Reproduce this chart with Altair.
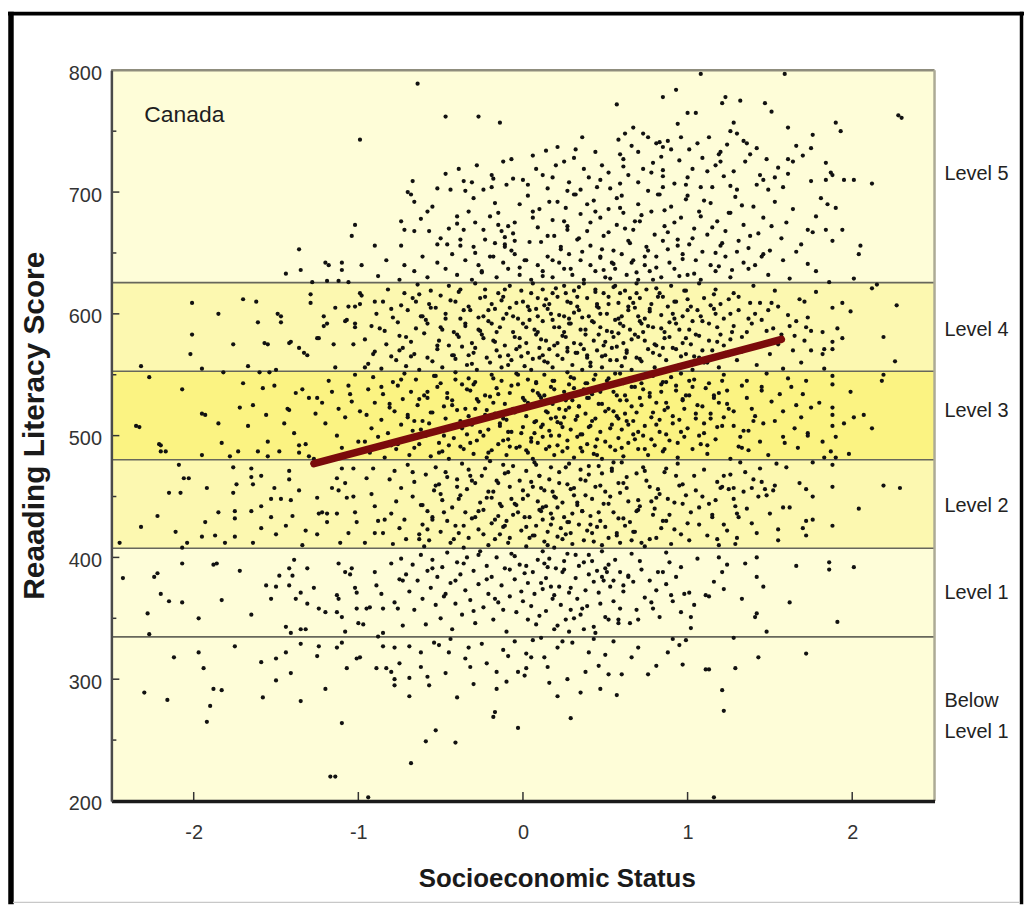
import altair as alt
import pandas as pd

# ---------------- data (SES, reading score) ----------------
below_level1 = [
 (-2.12,318),(-1.97,322),(-1.75,327),(-1.59,314),(-1.50,317),(-1.44,322),(-1.35,329),(-1.24,327),(-1.25,319),(-1.13,326),
 (-1.10,330),(-1.41,305),(-1.50,299),(-1.20,292),(-1.35,282),(-1.94,309),(-1.83,291),(-1.88,292),(-1.58,285),(-2.30,289),
 (-2.16,283),(-1.90,278),(-1.92,265),(-1.10,264),(-1.17,220),(-1.14,220),(-1.01,317),(-1.07,309),(-0.99,318),(-0.89,309),
 (-0.85,327),(-0.78,326),(-0.83,309),(-0.80,306),(-0.78,300),(-0.78,295),(-0.75,313),(-0.69,327),(-0.69,301),(-0.69,286),
 (-0.68,231),(-0.59,249),(-0.53,258),(-0.41,248),(-0.57,295),(-0.54,330),(-0.51,328),(-0.47,305),(-0.35,317),(-0.32,310),
 (-0.18,269),(-0.17,273),(-0.16,306),(-0.16,292),(-0.12,324),(-0.09,319),(-0.03,306),(-0.03,260),(-0.62,322),(-0.44,333),
 (-0.25,329),(-0.30,296),(-0.05,331),(-0.40,285),(-0.62,310),(-0.94,203),
 (0.02,321),(0.13,318),(0.21,326),(0.02,309),(0.01,303),(0.46,311),(0.52,304),(0.60,304),(0.76,304),(0.81,311),
 (0.21,286),(0.35,289),(0.47,292),(0.57,287),(0.29,268),(1.11,308),(1.13,308),(1.29,309),(1.21,291),(1.22,274),
 (1.43,318),(1.72,321),(1.16,203),(0.91,333),(0.95,328),(0.99,332),(1.28,334),(0.06,332),(0.11,334),(0.55,331),
 (0.30,330),(0.40,322),(0.70,326),(0.16,297),
 (0.05,318),(-0.22,313),(0.38,306),(0.66,318),(-0.45,322),(0.24,331),(0.88,322),(-0.10,298),(0.50,320),(0.15,310),
 (-0.33,326),(0.97,312),(0.43,333),(-0.58,302),(0.27,300),
]

level1 = [
 (-2.43,383),(-2.24,384),(-2.22,387),(-2.20,370),(-2.15,364),(-2.07,363),(-2.28,354),(-2.27,337),(-2.07,395),(-1.97,350),
 (-1.88,394),(-1.86,395),(-1.83,365),(-1.72,389),(-1.65,353),(-1.56,377),(-1.53,366),(-1.50,376),(-1.48,385),(-1.42,391),
 (-1.42,377),(-1.40,385),(-1.39,398),(-1.38,366),(-1.44,343),(-1.41,338),(-1.35,341),(-1.32,341),(-1.35,371),(-1.31,391),
 (-1.31,362),(-1.27,375),(-1.24,358),(-1.20,355),(-1.13,369),(-1.12,366),(-1.13,355),(-1.12,395),(-1.10,351),(-1.08,388),
 (-1.08,339),(-1.05,386),(-1.04,391),(-1.02,375),(-1.01,371),(-1.00,346),(-0.97,345),(-1.01,358),(-0.95,358),(-0.93,359),
 (-0.90,388),(-0.89,377),(-0.88,335),(-0.86,370),(-0.85,358),(-0.85,338),(-0.80,395),(-0.78,363),(-0.76,358),(-0.75,382),
 (-0.73,381),(-0.74,399),(-0.73,344),
 (-0.71,386),(-0.69,372),(-0.67,394),(-0.66,357),(-0.64,381),(-0.62,402),(-0.61,366),(-0.59,345),(-0.58,389),(-0.56,375),
 (-0.55,398),(-0.53,361),(-0.52,384),(-0.50,350),(-0.49,392),(-0.47,370),(-0.46,404),(-0.44,379),(-0.43,341),(-0.41,362),
 (-0.40,396),(-0.38,386),(-0.37,353),(-0.35,373),(-0.34,400),(-0.32,365),(-0.30,389),(-0.29,346),(-0.27,378),(-0.26,405),
 (-0.24,359),(-0.22,393),(-0.21,370),(-0.19,384),(-0.18,349),(-0.16,400),(-0.15,363),(-0.13,377),(-0.11,391),(-0.10,339),
 (-0.08,368),(-0.07,403),(-0.05,382),(-0.04,355),(-0.02,394),(-0.01,372),
 (0.02,393),(0.01,387),(0.03,349),(0.07,370),(0.11,379),(0.09,398),(0.13,395),(0.15,392),(0.17,376),(0.22,376),
 (0.20,391),(0.25,397),(0.24,388),(0.26,349),(0.28,339),(0.29,357),(0.28,371),(0.32,383),(0.33,366),(0.38,373),
 (0.40,402),(0.40,386),(0.43,380),(0.44,338),(0.45,389),(0.48,384),(0.49,381),(0.50,391),(0.51,388),(0.50,351),
 (0.52,349),(0.53,376),(0.55,364),(0.59,358),(0.58,349),(0.59,388),(0.64,384),(0.65,346),(0.67,380),(0.70,349),
 (0.72,390),(0.82,388),(0.79,358),(0.83,351),(0.85,388),(0.89,396),(0.90,369),(0.91,364),(0.96,392),(0.96,355),
 (0.98,370),(1.01,371),(1.02,351),(1.02,342),(1.04,361),(1.06,399),(1.11,369),(1.13,368),(1.16,380),(1.19,400),
 (1.21,388),(1.22,374),(1.24,394),(1.33,366),(1.35,395),(1.42,384),(1.42,354),(1.41,351),(1.46,376),(1.48,339),
 (1.42,400),(1.62,363),(1.66,393),(1.86,396),(1.86,390),(2.01,392),(1.91,347),
 (0.05,360),(0.08,345),(0.12,405),(0.14,356),(0.18,366),(0.19,341),(0.23,361),(0.27,403),(0.31,350),(0.34,393),
 (0.36,358),(0.37,341),(0.42,397),(0.47,362),(0.56,398),(0.61,372),(0.66,403),(0.74,367),(0.77,381),(0.87,404),
 (0.14,383),(-0.36,395),(0.46,371),(0.71,397),(-0.12,357),(0.32,402),(0.03,379),(0.58,346),(-0.48,368),(0.25,390),
 (0.87,378),(-0.22,382),(0.39,360),(0.10,352),(0.64,385),(-0.05,401),(0.19,369),(0.52,394),(-0.30,356),(0.78,363),
 (0.06,388),(0.43,343),(-0.41,381),(0.29,375),(0.93,384),(0.16,399),(-0.17,366),(0.61,377),(0.35,353),(-0.08,390),
 (0.48,405),(0.21,344),(0.81,373),(-0.27,402),(0.00,364),(0.55,381),(0.37,396),(-0.55,391),(0.69,357),(0.12,374),
]

level2 = [
 (-2.09,476),(-2.06,465),(-2.03,465),(-2.15,453),(-2.08,453),(-1.92,457),(-2.22,434),(-2.32,425),(-2.45,412),(-2.11,421),
 (-2.04,412),(-2.07,408),(-1.93,429),(-1.95,417),(-1.87,418),(-1.85,437),(-1.81,412),(-1.76,453),(-1.74,460),(-1.75,438),
 (-1.75,432),(-1.76,474),(-1.75,417),(-1.65,473),(-1.64,460),(-1.65,466),(-1.59,467),(-1.59,442),(-1.65,438),(-1.64,412),
 (-1.59,424),(-1.53,448),(-1.51,457),(-1.53,433),(-1.50,419),(-1.47,448),(-1.42,471),(-1.42,464),(-1.41,447),(-1.40,434),
 (-1.44,426),(-1.36,455),(-1.32,422),(-1.34,410),(-1.25,449),(-1.24,436),(-1.22,437),(-1.19,436),(-1.25,419),(-1.19,429),
 (-1.16,457),(-1.13,465),(-1.12,455),(-1.13,436),(-1.11,412),(-1.10,473),(-1.08,461),(-1.07,449),(-1.06,420),(-1.03,473),
 (-1.03,450),(-1.02,437),(-1.01,429),(-0.96,412),(-0.95,465),(-0.92,452),(-0.91,473),(-0.90,442),(-0.90,420),(-0.88,430),
 (-0.85,420),(-0.84,431),(-0.81,464),
 (-0.79,411),(-0.71,415),(-0.60,409),(-0.57,414),(-0.44,412),(-0.36,408),(-0.33,416),(-0.21,410),(-0.17,415),(-0.09,412),
 (0.02,409),(0.04,416),(0.13,413),(0.19,408),(0.21,417),(0.30,411),(0.37,414),(0.48,410),(0.52,416),(0.59,412),
 (0.74,409),(0.77,415),(0.90,411),(1.01,414),(1.19,410),
 (-0.75,424),(-0.63,419),(-0.61,427),(-0.50,421),(-0.41,426),(-0.39,420),(-0.27,423),(-0.19,428),(-0.14,419),(-0.12,425),
 (-0.01,422),(0.06,418),(0.08,426),(0.15,421),(0.23,424),(0.26,419),(0.34,427),(0.39,422),(0.45,425),(0.57,420),
 (0.62,426),(0.68,421),(0.84,424),(0.96,419),(1.07,427),(1.24,422),
 (-0.80,436),(-0.72,431),(-0.58,438),(-0.55,433),(-0.46,430),(-0.35,437),(-0.31,432),(-0.24,439),(-0.15,434),(-0.10,430),
 (-0.03,437),(0.01,433),(0.10,439),(0.12,431),(0.17,436),(0.25,433),(0.28,429),(0.36,438),(0.41,434),(0.47,430),
 (0.55,437),(0.61,432),(0.70,439),(0.79,435),(0.87,430),(1.02,437),(1.15,433),(1.30,436),
 (-0.77,446),(-0.67,450),(-0.62,443),(-0.49,447),(-0.43,441),(-0.38,451),(-0.26,445),(-0.22,449),(-0.13,442),(-0.07,448),
 (-0.05,444),(0.03,451),(0.09,446),(0.14,442),(0.20,449),(0.24,445),(0.31,451),(0.33,443),(0.42,448),(0.49,444),
 (0.53,450),(0.64,446),(0.71,442),(0.81,449),(0.92,445),(0.99,451),(1.13,444),(1.28,448),
 (-0.74,457),(-0.66,462),(-0.54,455),(-0.51,460),(-0.40,464),(-0.34,456),(-0.29,461),(-0.18,454),(-0.16,463),(-0.08,458),
 (0.00,455),(0.05,462),(0.11,457),(0.16,464),(0.18,454),(0.27,460),(0.29,456),(0.38,463),(0.44,458),(0.50,454),
 (0.58,461),(0.63,457),(0.75,463),(0.82,456),(0.97,460),(1.05,455),(1.18,462),
 (-0.78,471),(-0.70,476),(-0.59,468),(-0.53,474),(-0.47,470),(-0.37,477),(-0.32,467),(-0.23,473),(-0.20,479),(-0.11,469),
 (-0.06,475),(0.02,471),(0.07,478),(0.10,467),(0.17,474),(0.22,470),(0.28,477),(0.35,472),(0.40,468),(0.46,475),
 (0.54,471),(0.60,478),(0.69,469),(0.73,474),(0.86,470),(0.94,477),(1.10,472),(1.22,467),
 (1.68,461),(1.72,456),(1.76,450),(1.88,458),(2.19,459),(2.29,457),(2.04,440),(1.88,426),(1.72,430),(1.76,431),
 (1.72,418),(1.70,424),(1.55,423),(1.55,414),(1.62,441),(1.58,441),(1.50,436),(1.53,459),(1.52,455),(1.47,456),
 (1.48,451),(1.43,450),(1.40,464),(1.45,462),(1.39,428),(1.31,433),(1.29,442),(1.30,416),(1.29,411),(1.22,427),
 (1.18,415),(1.21,458),(1.25,456),(1.28,457),(1.34,454),(1.39,457),(1.44,473),(1.60,474),(1.54,477),(1.76,478),
 (1.88,476),(1.35,470),(1.32,478),(1.26,468),(1.36,440),(1.42,420),(1.17,447),
 (0.12,441),(-0.31,463),(0.57,418),(0.83,452),(-0.55,431),(0.26,474),(-0.08,416),(0.69,438),(1.04,467),(-0.19,449),
 (0.41,427),(-0.67,470),(0.06,458),(0.92,423),(0.33,445),(-0.42,415),(0.61,461),(0.18,432),(-0.12,476),(0.78,446),
 (1.15,435),(-0.27,438),(0.48,469),(0.02,425),(0.72,412),(-0.50,452),(0.24,415),(0.95,459),(-0.04,443),(0.55,478),
 (0.38,451),(-0.36,426),(0.87,473),(0.10,467),(-0.61,443),(0.65,429),(0.29,420),(1.09,450),(-0.15,461),(0.46,437),
 (0.00,448),(0.81,416),(-0.46,466),(0.21,441),(0.59,453),(-0.24,419),(1.00,428),(0.35,464),(-0.06,435),(0.74,471),
 (0.15,410),(-0.39,448),(0.52,444),(0.89,435),(-0.11,426),(0.31,457),(0.67,421),(-0.58,423),(0.08,476),(1.20,457),
 (0.43,413),(-0.21,454),(0.77,458),(0.19,450),(-0.33,472),(0.97,444),(0.50,425),(0.04,433),(-0.48,437),(0.63,466),
 (0.27,429),(-0.02,463),(0.85,430),(1.12,418),(-0.29,433),(0.40,475),(0.13,455),(0.70,447),(-0.53,459),(0.36,438),
 (0.58,432),(-0.14,444),(0.93,467),(0.22,461),(-0.40,458),(0.07,418),(0.80,440),(0.47,459),(-0.09,470),(0.66,414),
 (1.07,441),(0.30,436),(-0.63,415),(0.17,427),(0.54,473),(-0.25,467),(0.88,448),(0.11,438),(0.42,420),(-0.17,431),
]

level3 = [
 (-2.35,508),(-2.33,507),(-2.21,493),(-2.20,487),(-2.17,487),(-2.07,538),(-1.95,518),(-1.93,517),(-1.95,484),(-1.85,510),
 (-1.83,494),(-1.78,483),(-1.73,487),(-1.70,543),(-1.72,523),(-1.67,508),(-1.64,525),(-1.61,487),(-1.58,539),(-1.55,495),
 (-1.51,541),(-1.48,487),(-1.45,510),(-1.43,522),(-1.39,502),(-1.38,535),(-1.36,492),(-1.34,538),(-1.30,531),(-1.26,518),
 (-1.25,531),(-1.27,481),(-1.56,517),(-1.42,521),(-1.22,527),(-1.16,536),(-1.06,541),(-1.05,534),(-1.04,528),(-0.99,520),
 (-2.20,492),(-1.55,483),(-1.36,486),(-1.32,493),(-1.30,483),(-2.27,548),(-1.13,500),(-1.10,490),(-1.20,510),(-1.18,545),
 (-1.00,495),(-1.08,515),(-1.02,550),(-1.12,522),(-1.82,552),(-1.60,552),(-1.54,552),
 (-0.93,486),(-0.84,482),(-0.77,489),(-0.69,484),(-0.66,490),(-0.56,483),(-0.49,487),(-0.45,481),(-0.36,489),(-0.30,485),
 (-0.22,482),(-0.19,488),(-0.10,484),(-0.04,490),(0.03,486),(0.06,481),(0.14,489),(0.19,484),(0.24,487),(0.31,482),
 (0.35,490),(0.43,485),(0.48,481),(0.56,488),(0.61,483),(0.70,489),(0.76,484),(0.85,487),(0.94,482),(1.03,489),
 (1.12,485),(1.26,481),(1.37,488),(1.49,484),
 (-0.96,495),(-0.88,499),(-0.80,492),(-0.71,497),(-0.63,493),(-0.59,500),(-0.51,494),(-0.42,498),(-0.38,491),(-0.28,496),
 (-0.24,500),(-0.15,493),(-0.09,497),(-0.02,491),(0.05,498),(0.09,494),(0.17,500),(0.21,492),(0.27,496),(0.33,499),
 (0.39,493),(0.45,497),(0.53,491),(0.58,498),(0.64,494),(0.73,500),(0.80,492),(0.89,496),(0.98,499),(1.08,493),
 (1.17,497),(1.31,491),(1.44,495),(1.58,499),
 (-0.92,506),(-0.82,502),(-0.74,509),(-0.67,504),(-0.57,510),(-0.53,503),(-0.44,507),(-0.34,501),(-0.31,509),(-0.21,505),
 (-0.14,510),(-0.07,503),(0.00,507),(0.07,502),(0.12,509),(0.16,504),(0.23,510),(0.29,505),(0.36,501),(0.41,508),
 (0.47,503),(0.54,509),(0.60,505),(0.67,501),(0.74,508),(0.83,503),(0.91,510),(1.00,506),(1.10,502),(1.21,508),
 (1.34,504),(1.46,510),
 (-0.95,517),(-0.86,513),(-0.78,520),(-0.70,515),(-0.61,512),(-0.55,519),(-0.47,514),(-0.40,521),(-0.33,516),(-0.26,512),
 (-0.17,518),(-0.12,514),(-0.05,521),(0.02,516),(0.08,512),(0.15,519),(0.20,515),(0.26,521),(0.32,513),(0.38,518),
 (0.44,514),(0.50,520),(0.57,516),(0.63,512),(0.69,519),(0.78,515),(0.86,521),(0.95,513),(1.05,518),(1.14,514),
 (1.28,520),(1.41,516),(1.53,512),
 (-0.90,527),(-0.81,523),(-0.73,530),(-0.64,525),(-0.58,531),(-0.48,524),(-0.43,529),(-0.35,522),(-0.27,528),(-0.20,532),
 (-0.11,526),(-0.06,522),(0.01,529),(0.04,524),(0.11,531),(0.18,526),(0.22,522),(0.30,529),(0.34,524),(0.40,531),
 (0.46,526),(0.52,522),(0.59,529),(0.66,524),(0.71,531),(0.81,527),(0.88,523),(0.97,530),(1.06,525),(1.16,531),
 (1.24,526),(1.39,522),(1.51,528),
 (-0.94,538),(-0.85,534),(-0.76,541),(-0.68,536),(-0.60,533),(-0.52,540),(-0.46,535),(-0.37,542),(-0.32,537),(-0.23,533),
 (-0.16,539),(-0.08,535),(-0.03,542),(0.06,537),(0.10,533),(0.17,540),(0.25,536),(0.28,542),(0.37,538),(0.42,534),
 (0.49,541),(0.55,536),(0.62,533),(0.68,540),(0.77,535),(0.84,542),(0.93,537),(1.01,533),(1.11,539),(1.19,535),
 (1.33,541),(1.45,537),(1.56,534),
 (-0.91,548),(-0.79,544),(-0.72,551),(-0.65,546),(-0.54,549),(-0.50,543),(-0.41,552),(-0.33,547),(-0.29,544),(-0.19,550),
 (-0.13,545),(-0.04,551),(0.03,546),(0.08,543),(0.13,550),(0.19,545),(0.27,552),(0.31,547),(0.39,543),(0.44,550),
 (0.51,545),(0.56,551),(0.65,547),(0.72,543),(0.79,549),(0.87,544),(0.96,551),(1.04,546),(1.13,543),(1.22,550),
 (1.36,545),(1.48,551),(1.61,547),
 (2.18,545),(1.99,536),(2.07,517),(2.01,515),(2.12,506),(1.98,485),(1.95,510),(1.88,549),(1.88,542),(1.88,523),
 (1.88,517),(1.88,508),(1.90,499),(1.82,495),(1.73,502),(1.83,482),(1.90,482),(1.80,527),(1.75,523),(1.70,534),
 (1.69,515),(1.65,506),(2.19,550),(1.73,500),(1.67,490),(1.58,520),(1.63,540),(1.72,545),(1.59,494),(1.66,525),
 (1.87,487),
 (0.21,511),(-0.34,538),(0.78,497),(1.09,524),(-0.62,505),(0.43,546),(0.02,488),(0.91,516),(-0.18,527),(1.32,499),
 (0.57,533),(-0.45,492),(0.14,520),(0.69,548),(1.18,507),(-0.07,541),(0.35,501),(-0.81,526),(0.84,536),(0.27,490),
 (1.01,545),(-0.26,503),(0.62,518),(0.09,535),(1.40,512),(-0.53,549),(0.48,526),(-0.12,496),(0.96,503),(0.31,539),
 (-0.70,517),(0.74,489),(0.18,545),(1.24,537),(-0.38,512),(0.53,506),(0.04,523),(0.87,527),(-0.21,486),(0.39,531),
 (1.12,492),(-0.58,536),(0.66,540),(0.24,507),(-0.03,550),(1.05,514),(0.45,484),(-0.29,522),(0.81,509),(0.12,499),
 (1.36,531),(-0.48,500),(0.59,551),(0.33,516),(-0.15,534),(0.99,533),(0.07,511),(-0.76,493),(0.72,525),(1.21,545),
 (0.26,529),(-0.09,503),(0.50,495),(0.93,541),(-0.41,546),(0.16,491),(1.14,518),(0.64,509),(-0.23,517),(0.38,543),
 (0.00,531),(0.86,489),(-0.63,530),(1.28,508),(0.55,520),(0.19,538),(-0.32,494),(0.77,532),(1.07,500),(0.42,512),
 (-0.05,519),(0.68,497),(-0.86,540),(0.29,548),(0.98,522),(0.11,507),(-0.43,525),(1.45,540),(0.61,543),(0.22,500),
 (-0.18,547),(0.83,513),(0.36,487),(1.16,533),(-0.66,512),(0.47,536),(0.05,495),(0.90,548),(-0.28,530),(0.70,503),
 (1.25,522),(0.15,527),(-0.51,486),(0.58,514),(0.94,494),(-0.10,513),(0.34,524),(1.03,540),(-0.37,506),(0.79,519),
 (0.25,515),(1.33,490),(-0.01,502),(0.63,529),(-0.74,546),(0.44,491),(1.10,510),(0.08,544),(-0.22,521),(0.87,501),
 (0.52,547),(-0.56,519),(0.17,514),(1.19,527),(0.73,538),(-0.08,491),(0.40,507),(0.97,529),(-0.30,542),(0.28,523),
 (1.37,504),(0.60,490),(-0.46,531),(0.13,533),(0.85,544),(-0.14,508),(0.49,540),(1.22,515),(0.03,527),(0.67,512),
]

level4 = [
 (-2.01,583),(-2.02,567),(-2.32,557),(-1.95,555),(-1.76,575),(-1.67,557),(-1.57,576),(-1.55,575),(-1.47,598),(-1.47,593),
 (-1.41,577),(-1.36,572),(-1.31,566),(-1.25,580),(-1.21,598),(-1.19,592),(-1.14,605),(-1.06,606),(-1.02,606),(-1.07,595),
 (-1.02,592),(-0.98,615),(-1.62,610),(-1.29,616),(-1.29,609),(-2.01,609),(-1.85,600),(-1.70,612),(-1.61,593),(-1.50,554),
 (-1.42,576),(-1.33,568),(-1.24,580),(-1.21,590),(-1.15,575),(-1.14,556),(-1.08,594),(-1.02,589),(-0.99,608),(-0.99,617),
 (-1.03,575),(-0.96,556),(-0.91,567),(-0.90,610),(-1.49,600),
 (-0.94,559),(-0.86,555),(-0.77,562),(-0.71,557),(-0.63,554),(-0.55,561),(-0.49,556),(-0.41,563),(-0.34,558),(-0.28,554),
 (-0.20,560),(-0.13,556),(-0.07,562),(0.01,557),(0.05,554),(0.13,561),(0.18,556),(0.24,563),(0.30,558),(0.36,554),
 (0.41,560),(0.48,556),(0.53,562),(0.60,557),(0.66,554),(0.72,561),(0.80,556),(0.87,562),(0.95,558),(1.03,554),
 (1.10,560),(1.19,556),(1.30,562),(1.42,558),(1.58,555),
 (-0.90,569),(-0.80,565),(-0.73,572),(-0.66,567),(-0.58,564),(-0.52,571),(-0.43,566),(-0.37,573),(-0.30,568),(-0.22,564),
 (-0.16,570),(-0.09,566),(-0.02,573),(0.03,568),(0.10,564),(0.16,571),(0.21,566),(0.27,572),(0.33,568),(0.39,564),
 (0.45,570),(0.50,566),(0.57,573),(0.63,568),(0.69,564),(0.76,571),(0.83,566),(0.91,572),(0.99,567),(1.07,564),
 (1.15,570),(1.25,566),(1.36,572),(1.50,567),(1.64,570),
 (-0.96,579),(-0.83,575),(-0.75,582),(-0.68,577),(-0.60,584),(-0.51,578),(-0.45,574),(-0.39,581),(-0.31,576),(-0.25,583),
 (-0.18,578),(-0.11,574),(-0.05,581),(0.02,576),(0.08,583),(0.14,578),(0.19,574),(0.26,581),(0.31,576),(0.38,583),
 (0.43,578),(0.49,574),(0.55,581),(0.61,576),(0.68,583),(0.74,578),(0.81,574),(0.89,581),(0.97,576),(1.05,583),
 (1.13,578),(1.22,574),(1.33,581),(1.46,576),(1.57,583),
 (-0.92,590),(-0.84,586),(-0.76,593),(-0.65,588),(-0.59,595),(-0.50,589),(-0.42,585),(-0.35,592),(-0.27,587),(-0.21,594),
 (-0.14,589),(-0.06,585),(0.00,592),(0.07,587),(0.12,594),(0.19,589),(0.25,585),(0.29,592),(0.35,587),(0.42,594),
 (0.47,589),(0.54,585),(0.59,592),(0.65,587),(0.71,594),(0.79,589),(0.86,585),(0.93,592),(1.01,587),(1.09,594),
 (1.18,589),(1.27,585),(1.39,592),(1.52,588),(1.66,594),
 (-0.89,600),(-0.79,597),(-0.70,603),(-0.62,598),(-0.53,605),(-0.47,600),(-0.38,596),(-0.32,603),(-0.24,598),(-0.17,604),
 (-0.10,600),(-0.03,596),(0.04,603),(0.09,598),(0.15,604),(0.22,599),(0.28,596),(0.34,603),(0.40,598),(0.46,605),
 (0.51,600),(0.58,596),(0.64,603),(0.70,598),(0.77,604),(0.84,599),(0.92,596),(1.00,603),(1.08,598),(1.16,604),
 (1.26,600),(1.37,596),(1.49,603),(1.61,599),
 (-0.85,610),(-0.74,607),(-0.67,613),(-0.57,608),(-0.50,615),(-0.41,610),(-0.33,606),(-0.26,613),(-0.19,608),(-0.12,614),
 (-0.04,609),(0.03,606),(0.09,613),(0.16,608),(0.21,614),(0.27,610),(0.33,606),(0.39,613),(0.45,608),(0.52,614),
 (0.58,609),(0.64,606),(0.71,613),(0.78,608),(0.85,614),(0.93,610),(1.02,606),(1.10,613),(1.20,608),(1.31,614),
 (1.44,609),(1.55,606),
 (-0.82,620),(-0.72,617),(-0.64,624),(-0.56,619),(-0.45,623),(-0.39,618),(-0.29,625),(-0.23,620),(-0.15,617),(-0.08,623),
 (-0.01,619),(0.06,625),(0.12,620),(0.18,617),(0.25,623),(0.31,619),(0.37,625),(0.44,620),(0.49,617),(0.56,623),
 (0.62,619),(0.69,625),(0.75,620),(0.83,617),(0.90,623),(0.99,619),(1.07,625),(1.17,620),(1.28,617),(1.40,623),
 (1.53,619),
 (1.88,605),(1.94,609),(1.99,602),(1.94,580),(1.88,571),(1.82,585),(1.83,571),(2.12,621),(2.15,624),(1.75,586),
 (1.65,582),(2.27,607),(2.19,581),(2.26,561),(1.88,577),(1.91,588),(1.82,567),(1.75,570),(1.69,560),(1.73,597),
 (1.68,612),(1.78,618),(1.62,590),(1.71,578),(1.83,555),(1.72,589),(1.71,610),
 (0.37,571),(-0.21,603),(0.84,588),(1.12,560),(-0.58,592),(0.05,617),(0.66,579),(1.41,600),(-0.33,566),(0.29,609),
 (0.93,571),(-0.71,581),(0.18,595),(1.25,612),(-0.09,558),(0.55,622),(1.03,594),(-0.44,611),(0.41,557),(0.77,602),
 (-0.16,585),(1.18,577),(0.12,566),(0.61,590),(-0.80,604),(0.98,619),(0.24,582),(-0.27,597),(1.33,569),(0.47,600),
 (0.71,563),(-0.52,574),(0.08,604),(1.07,582),(0.33,614),(-0.04,571),(0.88,606),(1.48,586),(-0.38,620),(0.58,584),
 (0.15,560),(-0.63,616),(0.80,575),(1.22,596),(0.43,593),(-0.13,611),(0.69,617),(0.27,569),(1.55,575),(-0.24,580),
 (0.96,565),(0.52,608),(-0.47,596),(0.02,589),(1.14,607),(0.35,575),(-0.87,588),(0.74,596),(0.20,621),(1.38,609),
 (-0.06,598),(0.63,570),(1.00,612),(-0.31,559),(0.44,618),(0.86,580),(0.11,579),(-0.68,565),(1.28,590),(0.57,562),
 (-0.19,592),(0.91,600),(0.31,601),(1.09,570),(-0.40,583),(0.67,609),(0.06,563),(1.45,595),(0.50,577),(-0.11,620),
 (0.82,614),(0.22,589),(-0.56,605),(1.20,583),(0.39,566),(0.00,610),(0.73,585),(1.31,603),(-0.29,572),(0.60,598),
 (0.14,612),(0.95,587),(-0.75,570),(0.46,583),(1.04,565),(-0.02,580),(0.79,568),(0.28,592),(1.16,616),(-0.36,603),
 (0.54,572),(0.17,600),(0.89,593),(-0.14,565),(1.26,579),(0.65,613),(0.09,585),(-0.49,587),(0.76,590),(0.34,622),
 (1.06,603),(-0.23,614),(0.48,565),(0.99,580),(0.25,598),(-0.61,598),(0.70,581),(1.36,585),(0.04,595),(0.59,617),
 (-0.08,605),(0.85,572),(0.38,587),(1.13,592),(-0.35,590),(0.21,576),(0.68,605),(1.51,609),(-0.01,565),(0.92,610),
 (0.32,568),(-0.17,577),(0.56,595),(1.02,575),(0.13,607),(0.81,621),(-0.42,566),(0.45,606),(1.23,568),(0.26,617),
 (0.72,592),(-0.26,586),(0.10,572),(0.97,598),(0.51,586),(-0.65,610),(1.17,600),(0.36,597),(0.62,564),(-0.12,596),
]

level5 = [
 (-1.44,633),(-1.35,636),(-1.36,653),(-1.28,626),(-1.19,627),(-1.12,627),(-1.06,626),(-1.20,642),(-1.18,640),(-1.10,642),
 (-1.10,636),(-0.98,640),(-0.74,676),(-0.72,669),(-0.66,668),(-0.62,678),(-0.57,668),(-0.45,670),(-0.40,680),(-0.40,674),
 (-0.36,669),(-0.29,675),(-0.24,669),(-0.20,680),(-0.17,691),(-0.15,683),(-0.13,668),(-0.09,672),(-0.05,660),(-0.11,663),
 (-0.23,661),(-0.17,658),(-0.11,655),(-0.07,652),(-1.02,673),(-1.04,664),(-0.90,656),(-0.74,656),(-0.52,657),(-0.46,657),
 (-0.38,656),(-0.30,655),(-0.66,692),(-0.68,698),(-0.55,688),(-0.30,695),(-0.02,690),(-0.05,675),(-0.50,662),(-0.58,684),
 (-0.88,631),(-0.75,628),(-0.66,635),(-0.58,630),(-0.47,637),(-0.40,632),(-0.31,628),(-0.25,635),(-0.16,630),(-0.09,637),
 (-0.02,632),(0.05,628),(0.12,635),(0.18,630),(0.25,637),(0.30,632),(0.37,628),(0.44,635),(0.50,630),(0.56,637),
 (0.63,632),(0.70,628),(0.77,635),(0.84,630),(0.92,637),(1.00,632),(1.08,628),(1.17,635),(1.26,630),(1.37,637),
 (1.49,632),(1.62,629),
 (-0.83,644),(-0.72,640),(-0.61,647),(-0.52,642),(-0.43,649),(-0.35,644),(-0.27,640),(-0.20,647),(-0.12,642),(-0.05,649),
 (0.02,644),(0.09,640),(0.15,647),(0.22,642),(0.28,649),(0.35,644),(0.41,640),(0.47,647),(0.54,642),(0.60,649),
 (0.67,644),(0.74,640),(0.81,647),(0.89,642),(0.97,649),(1.05,644),(1.14,640),(1.23,647),(1.34,642),(1.46,649),
 (1.58,644),
 (0.03,697),(0.06,684),(0.09,671),(0.11,659),(0.16,692),(0.18,677),(0.19,664),(0.23,653),(0.26,687),(0.27,672),
 (0.31,698),(0.33,661),(0.35,682),(0.39,668),(0.41,656),(0.43,693),(0.47,679),(0.49,664),(0.52,686),(0.55,652),
 (0.57,673),(0.60,697),(0.61,683),(0.65,658),(0.67,669),(0.70,690),(0.71,676),(0.75,655),(0.78,684),(0.80,665),
 (0.82,698),(0.86,672),(0.88,653),(0.90,688),(0.94,661),(0.96,679),(0.99,694),(1.01,657),(1.04,670),(1.07,684),
 (1.09,651),(1.12,665),(1.14,691),(1.18,676),(1.20,656),(1.23,668),(1.26,683),(1.29,696),(1.31,660),(1.34,673),
 (1.37,654),(1.40,688),(1.43,666),(1.46,679),(1.50,652),(1.53,692),(1.57,662),(1.60,675),(1.64,686),(1.69,657),
 (1.73,669),(1.78,680),(1.81,695),(1.85,690),(1.90,687),(1.84,669),(1.94,669),(1.88,660),(2.05,656),(2.04,649),
 (1.76,667),(1.73,641),(1.66,651),(1.78,635),(1.86,626),(2.01,629),
 (0.34,662),(0.81,638),(-0.18,647),(1.15,671),(0.57,695),(0.12,631),(0.94,656),(-0.33,684),(0.66,642),(1.33,689),
 (0.25,676),(0.48,653),(1.04,633),(-0.06,666),(0.72,681),(0.18,644),(1.21,658),(0.39,690),(-0.25,634),(0.88,667),
 (0.53,629),(1.45,647),(0.06,679),(0.76,652),(0.29,637),(1.10,693),(-0.11,657),(0.62,670),(0.97,645),(0.44,684),
 (1.27,636),(0.15,664),(0.83,698),(-0.38,661),(0.55,641),(1.08,680),(0.21,692),(0.69,634),(1.38,664),(0.01,644),
 (0.92,675),(0.36,651),(0.59,687),(1.17,650),(-0.15,673),(0.79,628),(0.27,669),(1.03,662),(0.49,636),(0.10,686),
 (1.51,672),(0.64,660),(0.86,685),(-0.02,638),(0.41,675),(1.25,683),(0.74,647),(0.23,655),(1.00,697),(0.52,667),
 (1.41,640),(-0.29,650),(0.95,631),(0.32,698),(0.68,676),(0.04,659),(1.19,639),(0.47,646),(0.85,660),(1.30,651),
 (-0.99,743),(-0.07,727),(-0.39,719),(-0.47,715),(-0.19,714),(-0.18,711),(-0.06,711),(-0.67,709),(-0.52,703),(-0.44,702),
 (-0.36,709),(-0.35,701),(-0.70,700),(-0.24,702),(-0.19,704),(1.30,748),(1.76,747),(0.73,748),(0.76,745),(0.81,740),
 (0.83,741),(0.85,737),(1.06,740),(1.13,745),(1.24,739),(1.36,740),(1.42,736),(1.66,738),(1.75,736),(0.32,735),
 (0.21,737),(0.14,734),(0.70,733),(1.20,733),(0.59,731),(0.61,727),(0.61,721),(0.84,729),(1.19,731),(1.61,727),
 (1.64,725),(0.48,722),(0.37,719),(0.25,725),(0.20,722),(0.12,714),(0.00,710),(0.03,706),(0.64,714),(0.78,716),
 (0.85,718),(1.03,719),(1.12,717),(1.22,713),(1.28,717),(1.44,714),(1.46,710),(1.75,709),(1.84,710),(1.87,716),
 (1.95,710),(2.01,710),(2.12,707),(1.88,714),(1.84,724),(0.58,743),(1.49,702),(1.58,704),(1.42,706),(1.30,702),
 (1.15,704),(1.08,704),(0.92,707),(0.85,704),(0.76,701),(0.53,703),(0.45,704),(0.35,702),(-0.10,706),(0.15,703),
 (0.95,726),(1.00,712),(0.40,712),(0.28,708),(0.70,708),(1.35,725),(1.55,720),(0.90,735),(-0.28,722),(0.06,730),
 (0.52,716),(0.88,742),(1.17,722),(0.31,728),(0.99,706),(1.38,731),(0.66,738),(0.08,719),(1.53,712),(0.79,724),
 (0.44,733),(1.26,705),(0.18,712),(0.96,745),(1.61,715),(0.59,707),(1.09,728),(0.36,745),(-0.12,725),(1.70,730),
 (0.73,719),(1.34,742),(0.27,701),(1.01,735),(0.62,748),(-0.31,708),(1.20,725),(0.47,710),(0.85,713),(1.48,727),
 (-0.64,789),(-0.47,762),(-0.27,762),(-0.14,757),(1.08,797),(1.59,797),(0.93,784),(0.85,778),(0.57,772),(2.28,763),
 (2.30,761),(1.90,757),(1.93,750),(1.21,773),(1.23,778),(1.47,773),(1.51,766),(1.00,765),(1.05,765),(1.32,775),
 (0.94,756),(1.28,757),(0.67,753),(1.26,750),(1.61,753),
]

band_names = ["Below Level 1", "Level 1", "Level 2", "Level 3", "Level 4", "Level 5"]
band_low = [200, 334.75, 407.47, 480.18, 552.89, 625.61]
band_high = [334.75, 407.47, 480.18, 552.89, 625.61, 800]
band_colors = ["#fefdd8", "#fefdd8", "#fcf8b0", "#fbf382", "#fcf8b0", "#fefdd8"]
cut_scores = [334.75, 407.47, 480.18, 552.89, 625.61]

label_lines = ["Level 5", "Level 4", "Level 3", "Level 2", "Level 1", "Below", "Level 1"]
label_scores = [715, 587, 520, 442, 371, 282, 257]

reg_ses = [-1.27, 1.57]
reg_score = [477, 579]

x_ticks = [-2, -1, 0, 1, 2]
y_major = [200, 300, 400, 500, 600, 700, 800]
y_minor = [250, 350, 450, 550, 650, 750]

# ---------------- chart ----------------
W, H = 828, 735
FONT = "Liberation Sans"
xs = alt.Scale(domain=[-2.5, 2.5], nice=False, zero=False)
ys = alt.Scale(domain=[200, 800], nice=False, zero=False)

x_axis = alt.Axis(
    values=x_ticks, ticks=False, tickSize=0, grid=False,
    labelFont=FONT, labelFontSize=20, labelColor="#333333", labelPadding=22,
    labelExpr="'' + datum.value",
    domainColor="#1a1a1a", domainWidth=3.5,
    title="Socioeconomic Status", titleFont=FONT, titleFontSize=26, titleFontWeight="bold",
    titleColor="#1a1a1a", titleX=448, titleY=78, titleAlign="center", titleBaseline="middle",
    zindex=1)
y_axis = alt.Axis(
    values=y_major, ticks=False, tickSize=0, grid=False,
    labelFont=FONT, labelFontSize=20, labelColor="#333333", labelPadding=10, labelOffset=3,
    domainColor="#4a4a4a", domainWidth=2.5,
    title="Reaading Literacy Score", titleFont=FONT, titleFontSize=30, titleFontWeight="bold",
    titleColor="#1a1a1a", titleX=-77, titleY=357, titleAngle=270, titleAlign="center",
    titleBaseline="middle", zindex=1)

pts = pd.DataFrame(below_level1 + level1 + level2 + level3 + level4 + level5, columns=["ses", "score"])

points = alt.Chart(pts).mark_circle(size=18, color="#111111", opacity=1).encode(
    x=alt.X("ses:Q", scale=xs, axis=x_axis),
    y=alt.Y("score:Q", scale=ys, axis=y_axis),
)

bands = alt.Chart(pd.DataFrame({"band": band_names, "lo": band_low, "hi": band_high})).mark_rect().encode(
    x=alt.value(0), x2=alt.value(W),
    y=alt.Y("lo:Q", scale=ys, axis=y_axis), y2="hi:Q",
    color=alt.Color("band:N", scale=alt.Scale(domain=band_names, range=band_colors), legend=None),
)

cuts = alt.Chart(pd.DataFrame({"cut": cut_scores})).mark_rule(color="#67675b", strokeWidth=1.6).encode(
    x=alt.value(0), x2=alt.value(W), y=alt.Y("cut:Q", scale=ys, axis=y_axis)
)

reg = alt.Chart(pd.DataFrame({"ses": reg_ses, "score": reg_score})).mark_line(
    color="#7b0b0b", strokeWidth=7.5, strokeCap="round").encode(
    x=alt.X("ses:Q", scale=xs, axis=x_axis), y=alt.Y("score:Q", scale=ys, axis=y_axis)
)

yt_major = alt.Chart(pd.DataFrame({"v": y_major})).mark_rule(color="#333333", strokeWidth=1.5).encode(
    y=alt.Y("v:Q", scale=ys, axis=y_axis), x=alt.value(0), x2=alt.value(8))
yt_minor = alt.Chart(pd.DataFrame({"v": y_minor})).mark_rule(color="#333333", strokeWidth=1.5).encode(
    y=alt.Y("v:Q", scale=ys, axis=y_axis), x=alt.value(0), x2=alt.value(5))
xt = alt.Chart(pd.DataFrame({"v": x_ticks})).mark_rule(color="#333333", strokeWidth=1.5).encode(
    x=alt.X("v:Q", scale=xs, axis=x_axis), y=alt.value(H), y2=alt.value(H - 9))

top_border = alt.Chart().mark_rule(color="#8f8d7d", strokeWidth=2.5).encode(
    x=alt.value(0), x2=alt.value(W), y=alt.value(0))
right_border = alt.Chart().mark_rule(color="#acaa95", strokeWidth=2.5).encode(
    x=alt.value(W), y=alt.value(0), y2=alt.value(H))

levels = alt.Chart(pd.DataFrame({"t": label_lines, "s": label_scores})).mark_text(
    align="left", baseline="middle", font=FONT, fontSize=20, color="#222222").encode(
    x=alt.value(838), y=alt.Y("s:Q", scale=ys, axis=y_axis), text="t:N")

canada = alt.Chart(pd.DataFrame({"t": ["Canada"], "ses": [-2.30], "score": [763]})).mark_text(
    align="left", baseline="middle", font=FONT, fontSize=23, color="#1e1e1e").encode(
    x=alt.X("ses:Q", scale=xs, axis=x_axis), y=alt.Y("score:Q", scale=ys, axis=y_axis), text="t:N")

frame_top = alt.Chart().mark_rule(color="#000000", strokeWidth=4).encode(
    x=alt.value(-104), x2=alt.value(918), y=alt.value(-57))
frame_left = alt.Chart().mark_rule(color="#000000", strokeWidth=5.5).encode(
    x=alt.value(-101), y=alt.value(-59), y2=alt.value(H + 104))
frame_right = alt.Chart().mark_rule(color="#000000", strokeWidth=3.5).encode(
    x=alt.value(915.5), y=alt.value(-59), y2=alt.value(H + 104))
frame_bottom = alt.Chart().mark_rule(color="#c8c8c8", strokeWidth=1.5).encode(
    x=alt.value(-99), x2=alt.value(914), y=alt.value(H + 102))

chart = alt.layer(
    points.mark_circle(size=0, opacity=0),  # carries the axes first
    bands, cuts, points, reg, yt_major, yt_minor, xt, top_border, right_border,
    levels, canada, frame_top, frame_left, frame_right, frame_bottom,
).properties(
    width=W, height=H,
    padding={"left": 104, "top": 60, "right": 90, "bottom": 104},
    autosize=alt.AutoSizeParams(type="none"),
    background="white",
).configure_view(strokeWidth=0)

chart.save("out.html", embed_options={"renderer": "svg", "actions": False})
